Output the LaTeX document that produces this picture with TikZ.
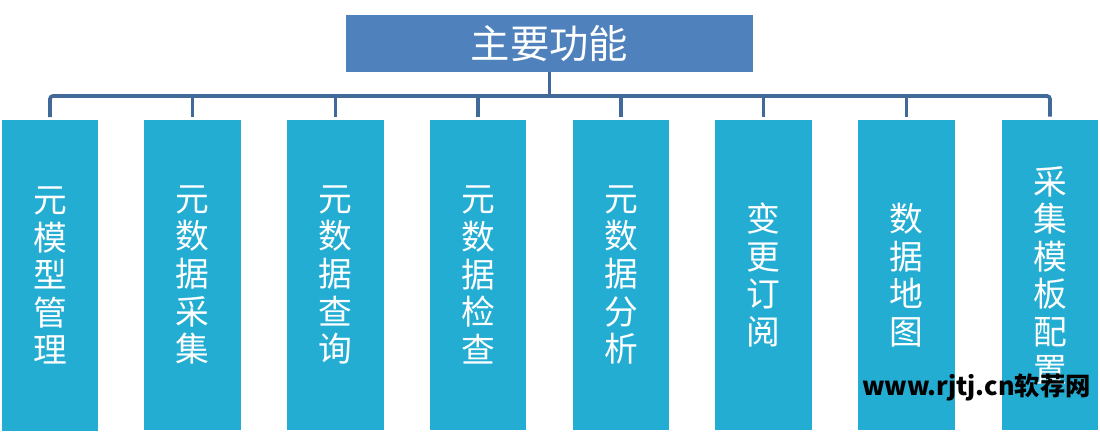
\documentclass[tikz,border=0pt]{standalone}
\usepackage{fontspec}
\newfontfamily\cjk{Noto Sans CJK SC}
\definecolor{titleblue}{HTML}{4F81BD}
\definecolor{boxcyan}{HTML}{24ADD2}
\definecolor{linkblue}{HTML}{41699A}
\tikzset{
  titlebox/.style={fill=titleblue, minimum width=10.175cm, minimum height=1.425cm, inner sep=0pt,
    text=white, font=\cjk\fontsize{28}{30}\selectfont},
  funcbox/.style={fill=boxcyan, minimum width=2.4cm, minimum height=7.75cm, inner sep=0pt,
    text=white, align=center, font=\cjk\fontsize{24}{26.7}\selectfont},
  link/.style={draw=linkblue, line width=2.6pt},
}
\begin{document}
\begin{tikzpicture}[x=0.025cm, y=-0.025cm]

    \useasboundingbox (0,0) rectangle (1100,433);

    % 1. 顶部标题框
    \node[titlebox] (main) at (549.5,43.5) {主要功能};

    % 2. 下方八个功能框
    \node[funcbox] (m1) at (50,275.5)   {元\\模\\型\\管\\理};
    \node[funcbox] (m2) at (192.5,275)  {元\\数\\据\\采\\集};
    \node[funcbox] (m3) at (335.5,275)  {元\\数\\据\\查\\询};
    \node[funcbox] (m4) at (478,275)    {元\\数\\据\\检\\查};
    \node[funcbox] (m5) at (621,275)    {元\\数\\据\\分\\析};
    \node[funcbox] (m6) at (763.5,275)  {变\\更\\订\\阅};
    \node[funcbox] (m7) at (906.5,275)  {数\\据\\地\\图};
    \node[funcbox] (m8) at (1050,275)   {采\\集\\模\\板\\配\\置};

    % 3. 连接线（总线在 y=96）
    \coordinate (bus) at (549.5,96);
    \draw[link] (main.south) -- (main.south |- bus);
    \draw[link, rounded corners=0.075cm, shorten <=0.075cm, shorten >=0.075cm] (m1.north) |- (bus) -| (m8.north);
    \draw[link, shorten <=0.075cm] (m2.north) -- (m2.north |- bus);
    \draw[link, shorten <=0.075cm] (m3.north) -- (m3.north |- bus);
    \draw[link, shorten <=0.075cm] (m4.north) -- (m4.north |- bus);
    \draw[link, shorten <=0.075cm] (m5.north) -- (m5.north |- bus);
    \draw[link, shorten <=0.075cm] (m6.north) -- (m6.north |- bus);
    \draw[link, shorten <=0.075cm] (m7.north) -- (m7.north |- bus);

    % 4. 右下角水印文字
    \node[anchor=east, inner sep=0pt, font=\cjk\bfseries\fontsize{18}{20}\selectfont] (mark) at (1091,387) {www.rjtj.cn软荐网};

\end{tikzpicture}
\end{document}
